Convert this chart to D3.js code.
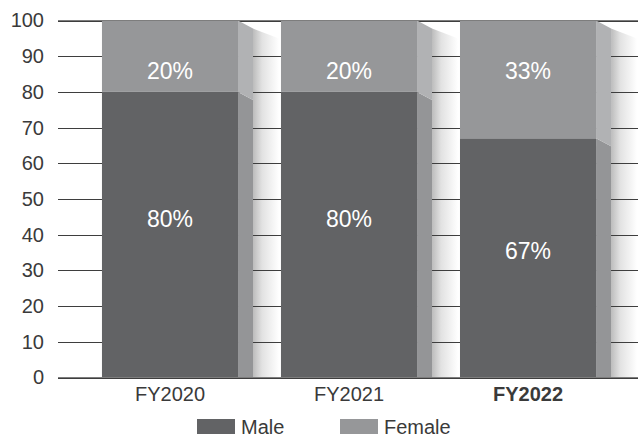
<!DOCTYPE html>
<html>
<head>
<meta charset="utf-8">
<script src="https://cdn.jsdelivr.net/npm/d3@7"></script>
<style>
  html, body { margin: 0; padding: 0; background: #fff; }
  svg { display: block; font-family: "Liberation Sans", Arial, Helvetica, sans-serif; }
</style>
</head>
<body>
<svg id="chart" width="638" height="437"></svg>
<script>
// Workforce gender split by fiscal year (percent)
const categories = ["FY2020", "FY2021", "FY2022"];
const maleValues = [80, 80, 67];
const femaleValues = [20, 20, 33];
const seriesNames = ["Male", "Female"];
const yTicks = [0, 10, 20, 30, 40, 50, 60, 70, 80, 90, 100];

const colors = { Male: "#626365", Female: "#969799" };
const sideColors = { Male: "#949597", Female: "#b1b2b4" };
const highlightYear = "FY2022";

const svg = d3.select("#chart");
const W = 638;

const x = d3.scaleBand().domain(categories).range([59, 639]).padding(0.24);
const y = d3.scaleLinear().domain([0, 100]).range([377.5, 20.5]);

const rows = categories.map((c, i) => ({ cat: c, Male: maleValues[i], Female: femaleValues[i] }));
const stacked = d3.stack().keys(seriesNames)(rows);

const depthX = 15, depthY = 8, shadowW = 26;
const defs = svg.append("defs");
const grad = defs.append("linearGradient").attr("id", "shade").attr("x1", "0").attr("x2", "1").attr("y1", "0").attr("y2", "0");
grad.append("stop").attr("offset", "0").attr("stop-color", "#bcbcbc");
grad.append("stop").attr("offset", "0.35").attr("stop-color", "#e2e2e2");
grad.append("stop").attr("offset", "1").attr("stop-color", "#ffffff");
defs.append("clipPath").attr("id", "plotClip")
  .append("rect").attr("x", 0).attr("y", 0).attr("width", W).attr("height", y(0));

// soft shadow falling to the right of each bar
svg.append("g").attr("clip-path", "url(#plotClip)")
  .selectAll("polygon").data(categories).join("polygon")
  .attr("fill", "url(#shade)")
  .attr("points", c => {
    const x0 = x(c) + x.bandwidth() + depthX;
    const top = y(100) + depthY;
    return [[x0, top], [x0 + shadowW, top + 10], [x0 + shadowW, y(0)], [x0, y(0)]].map(p => p.join(",")).join(" ");
  });

// value axis with full-width gridlines
const yAxis = svg.append("g").attr("transform", "translate(58,0)")
  .call(d3.axisLeft(y).tickValues(yTicks).tickSize(-(W - 58)).tickPadding(14));
yAxis.select(".domain").remove();
yAxis.selectAll(".tick line").attr("stroke", "#3e3e3e").attr("shape-rendering", "crispEdges");
yAxis.selectAll(".tick text").attr("fill", "#3a3a3a").style("font-size", "20px")
  .style("font-family", "'Liberation Sans', Arial, sans-serif");

// stacked bars: front faces and slanted side faces
const barG = svg.append("g").attr("clip-path", "url(#plotClip)");
stacked.forEach(layer => {
  const key = layer.key;
  barG.append("g").selectAll("rect").data(layer).join("rect")
    .attr("x", d => x(d.data.cat))
    .attr("y", d => y(d[1]))
    .attr("width", x.bandwidth())
    .attr("height", d => y(d[0]) - y(d[1]))
    .attr("fill", colors[key]);
  barG.append("g").selectAll("polygon").data(layer).join("polygon")
    .attr("fill", sideColors[key])
    .attr("points", d => {
      const x1 = x(d.data.cat) + x.bandwidth();
      const yt = y(d[1]), yb = y(d[0]);
      return [[x1, yt], [x1 + depthX, yt + depthY], [x1 + depthX, yb + depthY], [x1, yb]].map(p => p.join(",")).join(" ");
    });
});

// top and baseline rules drawn over the bars
svg.append("g").selectAll("line").data([0, 100]).join("line")
  .attr("x1", 58).attr("x2", W)
  .attr("y1", d => Math.round(y(d)) - 0.5).attr("y2", d => Math.round(y(d)) - 0.5)
  .attr("stroke", "#7d7d7d").attr("stroke-width", 1);

// percentage labels, hand-nudged inside each segment
const labelNudge = { Female: [15, 15, -9], Male: [-16, -16, -7] };
stacked.forEach(layer => {
  const key = layer.key;
  svg.append("g").selectAll("text").data(layer).join("text")
    .attr("x", d => x(d.data.cat) + x.bandwidth() / 2)
    .attr("y", (d, i) => y((d[0] + d[1]) / 2) + labelNudge[key][i])
    .attr("dy", "0.36em")
    .attr("text-anchor", "middle")
    .attr("fill", "#ffffff")
    .style("font-size", "23px")
    .text(d => (d[1] - d[0]) + "%");
});

// category axis
const xAxis = svg.append("g").attr("transform", `translate(0,${y(0)})`)
  .call(d3.axisBottom(x).tickSize(0).tickPadding(9));
xAxis.select(".domain").remove();
xAxis.selectAll(".tick text").attr("fill", "#3a3a3a").style("font-size", "20px")
  .style("font-family", "'Liberation Sans', Arial, sans-serif")
  .style("font-weight", d => d === highlightYear ? "bold" : "normal");

// legend
const legend = svg.append("g").selectAll("g").data(seriesNames).join("g")
  .attr("transform", (d, i) => `translate(${197 + i * 143},419)`);
legend.append("rect").attr("width", 38).attr("height", 15).attr("fill", d => colors[d]);
legend.append("text").attr("x", 44).attr("y", 15).attr("fill", "#3a3a3a")
  .style("font-size", "20px").text(d => d);
</script>
</body>
</html>
